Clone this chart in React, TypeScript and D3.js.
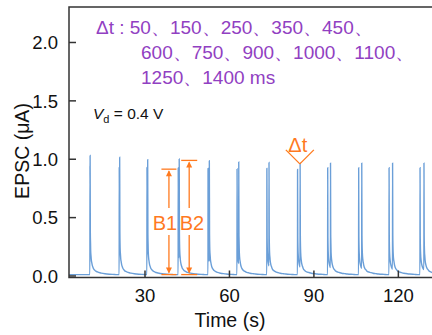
import * as d3 from "d3";

// pulse pairs, one per interval
const deltaT = [50, 150, 250, 350, 450, 600, 750, 900, 1000, 1100, 1250, 1400]; // ms
const pairStart = [10.45, 20.85, 30.7, 41.8, 52.4, 62.7, 73.3, 84.2, 94.9, 105.9, 116.7, 127.7]; // s
const peak1 = [0.93, 0.92, 0.92, 0.915, 0.91, 0.905, 0.91, 0.9, 0.915, 0.915, 0.915, 0.915];
const peak2 = [1.02, 1.005, 0.985, 0.99, 0.975, 0.965, 0.96, 0.955, 0.955, 0.955, 0.955, 0.955];

// shape of one EPSC (s after the pulse, fraction of peak)
const decayOffset = [-0.03, 0, 0.08, 0.2, 0.4, 0.7, 1.1, 1.7, 2.6, 4, 6, 9];
const decayFrac = [0, 1, 0.35, 0.2, 0.13, 0.085, 0.055, 0.035, 0.022, 0.012, 0.005, 0];
const baseline = 0.012;

const xTicks = [30, 60, 90, 120];
const yTicks = [0, 0.5, 1.0, 1.5, 2.0];

const legendLines = [
  "Δt : 50、150、250、350、450、",
  "600、750、900、1000、1100、",
  "1250、1400 ms",
];

const W = 432;
const H = 335;
const FONT = "Arial, 'Liberation Sans', Helvetica, sans-serif";
const ORANGE = "#ff7a1f";
const PURPLE = "#9140c2";
const BLUE = "#6b9fd8";
const AXIS = "#333";

const shape = d3.scaleLinear().domain(decayOffset).range(decayFrac).clamp(true);

const buildTrace = () => {
  const spikes: { t: number; a: number }[] = [];
  pairStart.forEach((t, i) => {
    spikes.push({ t, a: peak1[i] });
    spikes.push({ t: t + deltaT[i] / 1000, a: peak2[i] });
  });
  const times = new Set<number>([3, 140]);
  spikes.forEach((s) => decayOffset.forEach((o) => times.add(+(s.t + o).toFixed(4))));
  return Array.from(times)
    .sort((a, b) => a - b)
    .map((t) => {
      let v = 0;
      for (const s of spikes) {
        if (t < s.t + decayOffset[0] || t > s.t + 9) continue;
        v = Math.max(v, s.a * shape(t - s.t));
      }
      return { t, v: baseline + v };
    });
};

const App = () => {
  const left = 69;
  const top = 7;
  const bottom = 277.5;
  const x = d3.scaleLinear().domain([3, 140]).range([left, left + 2.815 * 137]);
  const y = d3.scaleLinear().domain([-0.013, 2.304]).range([bottom, top]);
  const right = x(140);

  const trace = buildTrace();
  const line = d3
    .line<{ t: number; v: number }>()
    .x((d) => x(d.t))
    .y((d) => y(d.v))
    .curve(d3.curveMonotoneX);

  const arrow = (xp: number, y1: number, y2: number, half: number, gapA: number, gapB: number) => {
    const ah = 6;
    const aw = 3;
    return (
      <g stroke={ORANGE} fill={ORANGE} strokeWidth={1.3}>
        <line x1={xp - half} x2={xp + half} y1={y1} y2={y1} />
        <line x1={xp - half} x2={xp + half} y1={y2} y2={y2} />
        <line x1={xp} x2={xp} y1={y1 + 2} y2={gapA} />
        <line x1={xp} x2={xp} y1={gapB} y2={y2 - 2} />
        <path d={`M${xp},${y1 + 1}L${xp - aw},${y1 + 1 + ah}L${xp + aw},${y1 + 1 + ah}Z`} stroke="none" />
        <path d={`M${xp},${y2 - 1}L${xp - aw},${y2 - 1 - ah}L${xp + aw},${y2 - 1 - ah}Z`} stroke="none" />
      </g>
    );
  };

  const b1x = x(38.5);
  const b2x = x(45.7);
  const vx = x(85.0);
  const vy = y(0.96);

  return (
    <svg width={W} height={H} style={{ position: "absolute", left: 0, top: 0 }} fontFamily={FONT}>
      <rect width={W} height={H} fill="#fff" />
      <defs>
        <clipPath id="plot">
          <rect x={left} y={top} width={right - left} height={bottom - top} />
        </clipPath>
      </defs>

      <path d={line(trace) ?? ""} fill="none" stroke={BLUE} strokeWidth={1.4} clipPath="url(#plot)" />

      {/* frame */}
      <path d={`M${right},${top}H${left}V${bottom}H${right}`} fill="none" stroke={AXIS} strokeWidth={1.5} />

      {yTicks.map((t) => (
        <g key={t}>
          <line x1={left} x2={left + 7} y1={y(t)} y2={y(t)} stroke={AXIS} strokeWidth={1.5} />
          <text x={58} y={y(t)} dy="0.36em" textAnchor="end" fontSize={18.5} fill="#111">
            {t.toFixed(1)}
          </text>
        </g>
      ))}
      {xTicks.map((t) => (
        <g key={t}>
          <line x1={x(t)} x2={x(t)} y1={bottom} y2={bottom - 7} stroke={AXIS} strokeWidth={1.5} />
          <text x={x(t)} y={302} textAnchor="middle" fontSize={18.5} fill="#111">
            {t}
          </text>
        </g>
      ))}

      <text x={230} y={327} textAnchor="middle" fontSize={19.5} fill="#111">
        Time (s)
      </text>
      <text transform="translate(29,151) rotate(-90)" textAnchor="middle" fontSize={19.5} fill="#111">
        EPSC (μA)
      </text>

      {legendLines.map((s, i) => (
        <text key={i} x={i === 0 ? 96 : 141} y={33.5 + i * 25} fontSize={19} fill={PURPLE}>
          {s}
        </text>
      ))}

      <text x={93} y={118.5} fontSize={15.5} fill="#111">
        <tspan fontStyle="italic">V</tspan>
        <tspan fontSize={11} dy={4}>d</tspan>
        <tspan dy={-4}> = 0.4 V</tspan>
      </text>

      {arrow(b1x, y(0.915), y(0.012), 7.5, 208, 235)}
      {arrow(b2x, y(0.99), y(0.012), 8, 208, 235)}
      <text x={165} y={229.5} textAnchor="middle" fontSize={20} fill={ORANGE}>
        B1
      </text>
      <text x={192} y={229.5} textAnchor="middle" fontSize={20} fill={ORANGE}>
        B2
      </text>

      <g stroke={ORANGE} strokeWidth={1.3} fill="none">
        <line x1={vx - 14} y1={vy - 14} x2={vx} y2={vy} />
        <line x1={vx + 14} y1={vy - 14} x2={vx} y2={vy} />
      </g>
      <text x={vx - 2} y={151.5} textAnchor="middle" fontSize={20} fill={ORANGE}>
        Δt
      </text>
    </svg>
  );
};

export default App;
